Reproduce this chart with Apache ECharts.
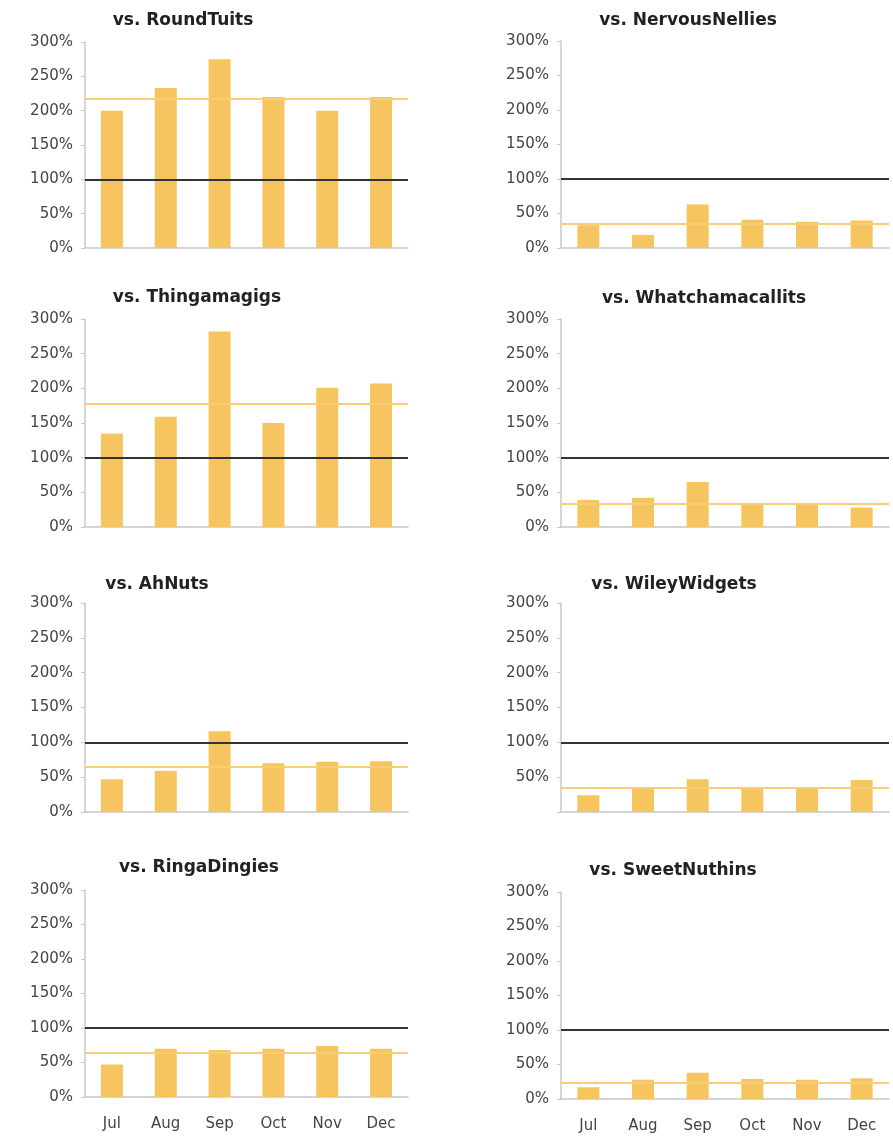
<!DOCTYPE html>
<html>
<head>
<meta charset="utf-8">
<title>Competitor comparison</title>
<script src="https://cdn.jsdelivr.net/npm/echarts@6/dist/echarts.min.js"></script>
<style>
    html, body { margin: 0; padding: 0; background: #fff; }
    #main { width: 893px; height: 1139px; }
</style>
</head>
<body>
<div id="main"></div>
<script type="text/javascript">
// months
var months = ['Jul', 'Aug', 'Sep', 'Oct', 'Nov', 'Dec'];
var yTicks = [0, 50, 100, 150, 200, 250, 300];

// ratio vs each competitor (%)
var roundTuits       = [200, 233, 275, 220, 200, 220];
var nervousNellies   = [33, 19, 63, 41, 38, 40];
var thingamagigs     = [135, 159, 282, 150, 201, 207];
var whatchamacallits = [39, 42, 65, 33, 32, 28];
var ahNuts           = [47, 59, 116, 70, 72, 73];
var wileyWidgets     = [24, 34, 47, 34, 34, 46];
var ringaDingies     = [47, 70, 68, 70, 74, 70];
var sweetNuthins     = [17, 28, 38, 29, 28, 30];

// average line per panel (%)
var averages = [218, 35, 178, 34, 65, 35, 64, 24];
var parity = 100;

var titles = ['vs. RoundTuits', 'vs. NervousNellies', 'vs. Thingamagigs', 'vs. Whatchamacallits',
              'vs. AhNuts', 'vs. WileyWidgets', 'vs. RingaDingies', 'vs. SweetNuthins'];
var panels = [roundTuits, nervousNellies, thingamagigs, whatchamacallits,
              ahNuts, wileyWidgets, ringaDingies, sweetNuthins];

// layout of each small chart: plot box + title centre
var boxes = [
    { left: 85,  width: 323, top: 42,  height: 206, tx: 183, ty: 12 },
    { left: 561, width: 328, top: 41,  height: 207, tx: 688, ty: 12 },
    { left: 85,  width: 323, top: 319, height: 208, tx: 197, ty: 289 },
    { left: 561, width: 328, top: 319, height: 208, tx: 704, ty: 290 },
    { left: 85,  width: 323, top: 603, height: 209, tx: 157, ty: 576 },
    { left: 561, width: 328, top: 603, height: 209, tx: 674, ty: 576 },
    { left: 85,  width: 323, top: 890, height: 207, tx: 199, ty: 859 },
    { left: 561, width: 328, top: 892, height: 207, tx: 673, ty: 862 }
];

var font = 'DejaVu Sans';
var chart = echarts.init(document.getElementById('main'));

var option = {
    backgroundColor: '#fff',
    animation: false,
    title: [],
    grid: [],
    xAxis: [],
    yAxis: [],
    series: []
};

panels.forEach(function (values, i) {
    var b = boxes[i];
    var bottomRow = i >= 6;
    option.title.push({
        text: titles[i],
        left: b.tx,
        top: b.ty,
        textAlign: 'center',
        padding: 0,
        textStyle: { fontFamily: font, fontSize: 17, fontWeight: 'bold', color: '#222' }
    });
    option.grid.push({ left: b.left, top: b.top, width: b.width, height: b.height });
    option.xAxis.push({
        type: 'category',
        gridIndex: i,
        data: months,
        axisLine: { lineStyle: { color: '#c8c8c8', width: 1.5 } },
        axisTick: { show: false },
        axisLabel: {
            show: bottomRow,
            margin: 20,
            fontFamily: font,
            fontSize: 15,
            color: '#444'
        }
    });
    option.yAxis.push({
        type: 'value',
        gridIndex: i,
        min: yTicks[0],
        max: yTicks[yTicks.length - 1],
        interval: 50,
        splitLine: { show: false },
        axisLine: { show: true, lineStyle: { color: '#c8c8c8', width: 1.5 } },
        axisTick: { show: true, length: 4, lineStyle: { color: '#c8c8c8' } },
        axisLabel: {
            margin: 12,
            fontFamily: font,
            fontSize: 15,
            color: '#444',
            formatter: function (v) {
                // WileyWidgets chart has no 0% label
                if (i === 5 && v === 0) return '';
                return v + '%';
            }
        }
    });
    option.series.push({
        type: 'bar',
        xAxisIndex: i,
        yAxisIndex: i,
        data: values,
        barWidth: 22,
        itemStyle: { color: '#f6c55f' },
        markLine: {
            silent: true,
            symbol: 'none',
            label: { show: false },
            data: [
                { yAxis: averages[i], lineStyle: { color: '#f8cd78', width: 2, type: 'solid' } },
                { yAxis: parity, lineStyle: { color: '#333', width: 2, type: 'solid' } }
            ]
        }
    });
});

chart.setOption(option);
</script>
</body>
</html>
